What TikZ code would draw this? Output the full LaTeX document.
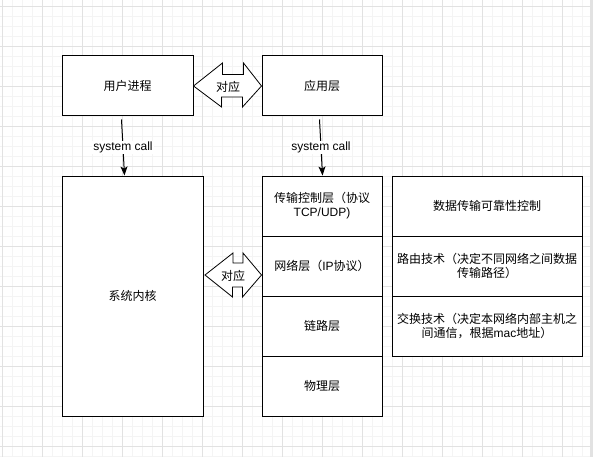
\documentclass[tikz,border=0pt]{standalone}
\usepackage{fontspec}
\setmainfont{Liberation Sans}
\newfontfamily\cjk{Noto Sans CJK SC}
\usetikzlibrary{arrows.meta,calc}
\definecolor{gridminor}{HTML}{F4F4F4}
\definecolor{gridmajor}{HTML}{E2E2E2}
\tikzset{
  box/.style={draw=black,line width=1pt,fill=white,inner sep=0pt,align=center,
    font=\fontsize{12}{14}\selectfont},
  sclabel/.style={fill=white,inner sep=1pt,font=\fontsize{12}{14}\selectfont},
  arrowlabel/.style={inner sep=0pt,font=\fontsize{12}{14}\selectfont\cjk},
  dblarrow/.style={draw=black,line width=0.8pt,fill=white,line join=miter},
  conn/.style={line width=1pt,-{Stealth[length=9pt,width=7pt,inset=2pt]}},
}
\begin{document}
\begin{tikzpicture}[x=1pt,y=-1pt]
\useasboundingbox (0,0) rectangle (593,457);
\fill[white] (0,0) rectangle (593,457);
\foreach \x in {2,12,...,592} \draw[gridminor,line width=0.8pt] (\x,0) -- (\x,457);
\foreach \y in {6,16,...,456} \draw[gridminor,line width=0.8pt] (0,\y) -- (593,\y);
\foreach \x in {2,42,...,582} \draw[gridmajor,line width=0.8pt] (\x,0) -- (\x,457);
\foreach \y in {6,46,...,446} \draw[gridmajor,line width=0.8pt] (0,\y) -- (593,\y);
\fill[gridmajor] (590,0) rectangle (593,457);

% top row
\node[box,minimum width=131pt,minimum height=60pt] (user) at (127.5,86) {\cjk 用户进程};
\node[box,minimum width=120pt,minimum height=60pt] (app) at (322,86) {\cjk 应用层};

% kernel
\node[box,minimum width=141pt,minimum height=240pt] (kernel) at (132.5,296) {\cjk 系统内核};

% stack
\node[box,minimum width=120pt,minimum height=60pt] (t1) at (322,206) {{\cjk 传输控制层（协议}\\TCP/UDP)};
\node[box,minimum width=120pt,minimum height=60pt] (t2) at (322,266) {{\cjk 网络层（}IP{\cjk 协议）}};
\node[box,minimum width=120pt,minimum height=60pt] (t3) at (322,326) {\cjk 链路层};
\node[box,minimum width=120pt,minimum height=60pt] (t4) at (322,386) {\cjk 物理层};

% right column
\node[box,minimum width=190pt,minimum height=60pt] (r1) at (487,206) {\cjk 数据传输可靠性控制};
\node[box,minimum width=190pt,minimum height=60pt] (r2) at (487,266) {{\cjk 路由技术（决定不同网络之间数据}\\{\cjk 传输路径）}};
\node[box,minimum width=190pt,minimum height=60pt] (r3) at (487,326) {{\cjk 交换技术（决定本网络内部主机之}\\{\cjk 间通信，根据}mac{\cjk 地址）}};

% system call connectors
\draw[conn] ($(user.south west)+(60,3)$) -- ($(kernel.north west)+(63,0)$)
  node[sclabel,pos=0.5] (sc1) {system call};
\draw[conn] ($(app.south west)+(58,3)$) -- ($(t1.north west)+(61,0)$)
  node[sclabel,pos=0.5] (sc2) {system call};

% double arrow 1 (user <-> app)
\draw[dblarrow] (user.east) -- ++(29,-23) -- ++(0,11.5) -- ++(21,0) -- ++(0,-11.5)
  -- (app.west) -- ++(-19,21) -- ++(0,-10) -- ++(-21,0) -- ++(0,10) -- cycle;
\node[arrowlabel] (c1) at (228,87) {对应};

% double arrow 2 (kernel <-> network layer)
\draw[dblarrow] (205,275) -- ++(28,-22) -- ++(0,10) -- ++(10,0) -- ++(0,-10)
  -- (t2.west |- 0,275) -- ++(-19,22) -- ++(0,-10) -- ++(-10,0) -- ++(0,10) -- cycle;
\node[arrowlabel] (c2) at (233,276) {对应};
\end{tikzpicture}
\end{document}
